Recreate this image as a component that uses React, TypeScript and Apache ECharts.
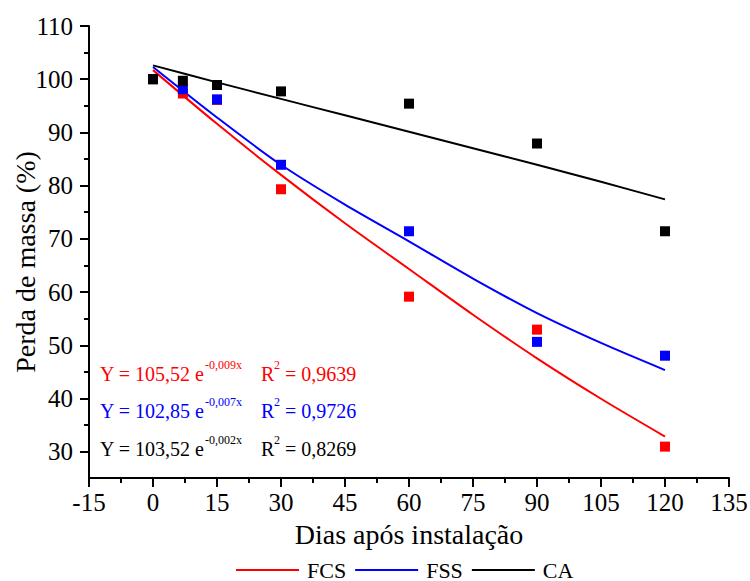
import { useEffect, useRef } from "react";
import * as echarts from "echarts";

// Observed points (days after installation, mass remaining %)
const days = [0, 7, 15, 30, 60, 90, 120];
const fcsObserved = [100, 97.3, 96.1, 79.3, 59.1, 52.9, 30.9];
const fssObserved = [100, 98.1, 96.2, 83.9, 71.4, 50.6, 48.0];
const caObserved = [100, 99.7, 98.9, 97.7, 95.4, 87.9, 71.4];

// Fitted curves
const fitDays = [0, 15, 30, 45, 60, 75, 90, 105, 120];
const fcsFit = [101.7, 91.6, 82.0, 72.9, 64.3, 55.7, 47.5, 39.9, 32.8];
const fssFit = [102.3, 92.8, 83.9, 76.4, 69.5, 62.5, 56.0, 50.4, 45.3];
const caFit = [102.6, 99.4, 96.3, 93.2, 90.1, 87.0, 83.9, 80.7, 77.4];

const seriesNames = ["FCS", "FSS", "CA"];
const seriesColors = ["#ff0000", "#0000ff", "#000000"];
const eqMain = ["Y = 105,52 e", "Y = 102,85 e", "Y = 103,52 e"];
const eqExp = ["-0,009x", "-0,007x", "-0,002x"];
const eqR2 = ["= 0,9639", "= 0,9726", "= 0,8269"];

const xTitle = "Dias após instalação";
const yTitle = "Perda de massa (%)";

const FONT = "Liberation Serif";

export default function App() {
  const ref = useRef<HTMLDivElement>(null);

  useEffect(() => {
    if (!ref.current) return;
    document.body.style.margin = "0";
    const chart = echarts.init(ref.current, undefined, { renderer: "svg" });

    const observed = [fcsObserved, fssObserved, caObserved];
    const fits = [fcsFit, fssFit, caFit];

    const scatterSeries = observed.map((vals, i) => ({
      name: seriesNames[i] + " obs",
      type: "scatter",
      xAxisIndex: 0,
      yAxisIndex: 0,
      symbol: "rect",
      symbolSize: 10,
      clip: false,
      itemStyle: { color: seriesColors[i], opacity: 1 },
      data: days.map((d, j) => [d, vals[j]]),
      z: 3,
    }));

    const lineSeries = fits.map((vals, i) => ({
      name: seriesNames[i],
      type: "line",
      xAxisIndex: 0,
      yAxisIndex: 0,
      smooth: 0.3,
      showSymbol: false,
      symbol: "none",
      lineStyle: { color: seriesColors[i], width: 2 },
      itemStyle: { color: seriesColors[i] },
      data: fitDays.map((d, j) => [d, vals[j]]),
      z: 2,
    }));

    const rowY = [374, 411, 449];
    const graphics: any[] = [
      {
        type: "text",
        x: 25,
        y: 262,
        rotation: Math.PI / 2,
        style: { text: yTitle, fontSize: 28, fontFamily: FONT, fill: "#000", align: "center", verticalAlign: "middle" },
      },
    ];
    for (let i = 0; i < 3; i++) {
      const c = rowY[i];
      const fill = seriesColors[i];
      graphics.push(
        { type: "text", x: 100, y: c, style: { text: eqMain[i], fontSize: 20, fontFamily: FONT, fill, verticalAlign: "middle" } },
        { type: "text", x: 205, y: c - 9, style: { text: eqExp[i], fontSize: 12, fontFamily: FONT, fill, verticalAlign: "middle" } },
        { type: "text", x: 261, y: c, style: { text: "R", fontSize: 20, fontFamily: FONT, fill, verticalAlign: "middle" } },
        { type: "text", x: 274, y: c - 9, style: { text: "2", fontSize: 12, fontFamily: FONT, fill, verticalAlign: "middle" } },
        { type: "text", x: 285, y: c, style: { text: eqR2[i], fontSize: 20, fontFamily: FONT, fill, verticalAlign: "middle" } }
      );
    }

    chart.setOption({
      animation: false,
      backgroundColor: "#ffffff",
      textStyle: { fontFamily: FONT },
      grid: [
        { left: 89, right: 21, top: 26, bottom: 103, outerBoundsMode: "none", containLabel: false },
        { left: 89, right: 21, top: 26, bottom: 129.3, outerBoundsMode: "none", containLabel: false },
      ],
      xAxis: [
        {
          gridIndex: 0,
          type: "value",
          min: -15,
          max: 135,
          interval: 15,
          name: xTitle,
          nameLocation: "middle",
          nameGap: 42,
          nameTextStyle: { fontSize: 28, fontFamily: FONT, color: "#000" },
          axisLine: { show: true, onZero: false, lineStyle: { color: "#000", width: 2 } },
          axisTick: { show: true, length: 9, lineStyle: { color: "#000", width: 2 } },
          minorTick: { show: true, splitNumber: 2, length: 5, lineStyle: { color: "#000", width: 2 } },
          axisLabel: { fontSize: 25, fontFamily: FONT, color: "#000", margin: 12, hideOverlap: false },
          splitLine: { show: false },
        },
        {
          gridIndex: 1,
          type: "value",
          min: -15,
          max: 135,
          show: false,
        },
      ],
      yAxis: [
        {
          gridIndex: 0,
          type: "value",
          min: 25,
          max: 110,
          axisLine: { show: true, onZero: false, lineStyle: { color: "#000", width: 2 } },
          axisTick: { show: false },
          axisLabel: { show: false },
          splitLine: { show: false },
        },
        {
          gridIndex: 1,
          type: "value",
          min: 30,
          max: 110,
          interval: 10,
          axisLine: { show: false, onZero: false },
          axisTick: { show: true, length: 9, lineStyle: { color: "#000", width: 2 } },
          minorTick: { show: true, splitNumber: 2, length: 5, lineStyle: { color: "#000", width: 2 } },
          axisLabel: { fontSize: 25, fontFamily: FONT, color: "#000", margin: 16 },
          splitLine: { show: false },
        },
      ],
      legend: {
        data: seriesNames,
        left: 236,
        top: 559,
        padding: 0,
        icon: "rect",
        itemWidth: 63,
        itemHeight: 2,
        itemGap: 9,
        textStyle: { fontSize: 22, lineHeight: 20, fontFamily: FONT, color: "#000", padding: [0, 0, 0, 3] },
      },
      graphic: graphics,
      series: [...lineSeries, ...scatterSeries],
    });

    return () => chart.dispose();
  }, []);

  return <div ref={ref} style={{ width: 750, height: 581 }} />;
}
